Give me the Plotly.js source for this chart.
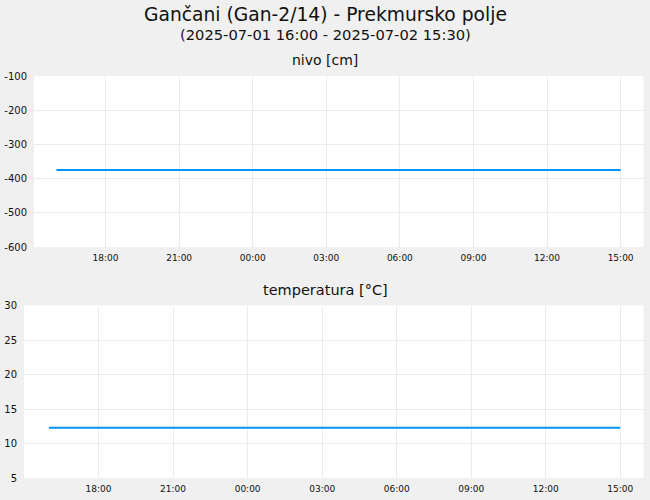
<!DOCTYPE html>
<html>
<head>
<meta charset="utf-8">
<script src="https://cdn.plot.ly/plotly-3.0.1.min.js"></script>
<style>
  body { margin: 0; background: #f0f0f0; }
  #chart { width: 650px; height: 500px; }
</style>
</head>
<body>
<div id="chart"></div>
<script>
var times = [
  '2025-07-01 16:00', '2025-07-01 17:00', '2025-07-01 18:00', '2025-07-01 19:00',
  '2025-07-01 20:00', '2025-07-01 21:00', '2025-07-01 22:00', '2025-07-01 23:00',
  '2025-07-02 00:00', '2025-07-02 01:00', '2025-07-02 02:00', '2025-07-02 03:00',
  '2025-07-02 04:00', '2025-07-02 05:00', '2025-07-02 06:00', '2025-07-02 07:00',
  '2025-07-02 08:00', '2025-07-02 09:00', '2025-07-02 10:00', '2025-07-02 11:00',
  '2025-07-02 12:00', '2025-07-02 13:00', '2025-07-02 14:00', '2025-07-02 15:00'
];

var nivo = [
  -375, -375, -375, -375, -375, -375, -375, -375,
  -375, -375, -375, -375, -375, -375, -375, -375,
  -375, -375, -375, -375, -375, -375, -375, -375
];

var temperatura = [
  12.3, 12.3, 12.3, 12.3, 12.3, 12.3, 12.3, 12.3,
  12.3, 12.3, 12.3, 12.3, 12.3, 12.3, 12.3, 12.3,
  12.3, 12.3, 12.3, 12.3, 12.3, 12.3, 12.3, 12.3
];

var xTicks = [
  '2025-07-01 18:00', '2025-07-01 21:00', '2025-07-02 00:00', '2025-07-02 03:00',
  '2025-07-02 06:00', '2025-07-02 09:00', '2025-07-02 12:00', '2025-07-02 15:00'
];
var xTickText = ['18:00', '21:00', '00:00', '03:00', '06:00', '09:00', '12:00', '15:00'];

var nivoTicks = [-600, -500, -400, -300, -200, -100];
var nivoTickText = ['-600', '-500', '-400', '-300', '-200', '-100'];
var tempTicks = [5, 10, 15, 20, 25, 30];
var tempTickText = ['5', '10', '15', '20', '25', '30'];

var lineColor = '#0094f5';
var font = 'DejaVu Sans, sans-serif';

var data = [
  {
    x: times,
    y: nivo,
    type: 'scatter',
    mode: 'lines',
    line: {color: lineColor, width: 2},
    xaxis: 'x',
    yaxis: 'y',
    hoverinfo: 'skip'
  },
  {
    x: times,
    y: temperatura,
    type: 'scatter',
    mode: 'lines',
    line: {color: lineColor, width: 2},
    xaxis: 'x2',
    yaxis: 'y2',
    hoverinfo: 'skip'
  }
];

function xAxis(domain, range, anchor){
  return {
    domain: domain,
    anchor: anchor,
    type: 'date',
    range: range,
    tickmode: 'array',
    tickvals: xTicks,
    ticktext: xTickText,
    tickfont: {family: font, size: 9, color: '#111'},
    gridcolor: '#ebebeb',
    gridwidth: 1,
    showline: false,
    zeroline: false,
    ticks: '',
    ticklabelstandoff: 4
  };
}

function yAxis(domain, range, vals, text, anchor){
  return {
    domain: domain,
    anchor: anchor,
    range: range,
    tickmode: 'array',
    tickvals: vals,
    ticktext: text,
    tickfont: {family: font, size: 10, color: '#111'},
    gridcolor: '#ebebeb',
    gridwidth: 1,
    showline: false,
    zeroline: false,
    ticks: '',
    ticklabelstandoff: 6
  };
}

var layout = {
  width: 650,
  height: 500,
  paper_bgcolor: '#f0f0f0',
  plot_bgcolor: '#ffffff',
  showlegend: false,
  margin: {l: 0, r: 0, t: 0, b: 0},
  xaxis: xAxis([34 / 650, 643.5 / 650], ['2025-07-01 15:05', '2025-07-02 15:56'], 'y'),
  yaxis: yAxis([1 - 247 / 500, 1 - 76 / 500], [-600, -100], nivoTicks, nivoTickText, 'x'),
  xaxis2: xAxis([24 / 650, 643.5 / 650], ['2025-07-01 15:00', '2025-07-02 15:56'], 'y2'),
  yaxis2: yAxis([1 - 478 / 500, 1 - 305.5 / 500], [5, 30], tempTicks, tempTickText, 'x2'),
  annotations: [
    {
      text: 'Gančani (Gan-2/14) - Prekmursko polje',
      xref: 'paper', yref: 'paper', x: 0.5, y: 1 - 14 / 500,
      xanchor: 'center', yanchor: 'middle', showarrow: false,
      font: {family: font, size: 18.7, color: '#111'}
    },
    {
      text: '(2025-07-01 16:00 - 2025-07-02 15:30)',
      xref: 'paper', yref: 'paper', x: 0.5, y: 1 - 34.5 / 500,
      xanchor: 'center', yanchor: 'middle', showarrow: false,
      font: {family: font, size: 14.7, color: '#111'}
    },
    {
      text: 'nivo [cm]',
      xref: 'paper', yref: 'paper', x: 0.5, y: 1 - 60 / 500,
      xanchor: 'center', yanchor: 'middle', showarrow: false,
      font: {family: font, size: 14, color: '#111'}
    },
    {
      text: 'temperatura [°C]',
      xref: 'paper', yref: 'paper', x: 0.5, y: 1 - 290 / 500,
      xanchor: 'center', yanchor: 'middle', showarrow: false,
      font: {family: font, size: 14.5, color: '#111'}
    }
  ]
};

Plotly.newPlot('chart', data, layout, {staticPlot: true, displayModeBar: false});
</script>
</body>
</html>
